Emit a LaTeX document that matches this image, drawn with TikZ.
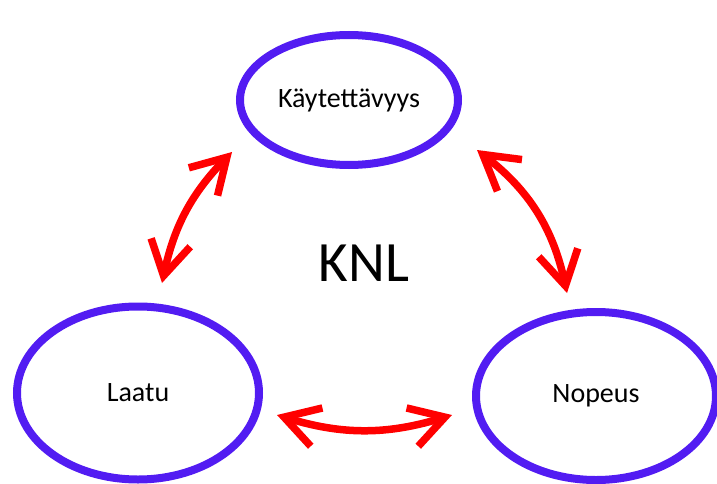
\documentclass[tikz,border=0pt]{standalone}
\usepackage{fontspec}
\setmainfont{Carlito}
\usepackage{tikz}
\usetikzlibrary{arrows.meta,shapes.geometric}
\definecolor{ringblue}{RGB}{82,28,242}

\begin{document}
\begin{tikzpicture}[x=1pt,y=1pt,
  goal/.style={ellipse, draw=ringblue, line width=8pt, inner sep=0pt, font=\fontsize{28}{30}\selectfont},
  swap/.style={red, line width=7.5pt, {Straight Barb[length=34pt,width=40pt]}-{Straight Barb[length=34pt,width=40pt]}}]
  \useasboundingbox (0,0) rectangle (717,483);
  \node[goal, minimum width=218pt, minimum height=130pt] (kay) at (349,383) {Käytettävyys};
  \node[goal, minimum width=242pt, minimum height=173pt] (laa) at (138,90) {Laatu};
  \node[goal, minimum width=240pt, minimum height=168pt] (nop) at (596,87) {Nopeus};
  \node[font=\fontsize{57}{60}\selectfont] (knl) at (364,220) {KNL};
  \coordinate (kl-1) at (232,331);
  \coordinate (kl-2) at (162,200);
  \coordinate (ln-1) at (277,68);
  \coordinate (ln-2) at (452,68);
  \coordinate (kn-1) at (477,333);
  \coordinate (kn-2) at (567,190);
  \path[swap]
  (kl-1) edge [bend right=16] (kl-2)
  (ln-1) edge [bend right=17] (ln-2)
  (kn-1) edge [bend left=20] (kn-2)
  ;
\end{tikzpicture}
\end{document}
